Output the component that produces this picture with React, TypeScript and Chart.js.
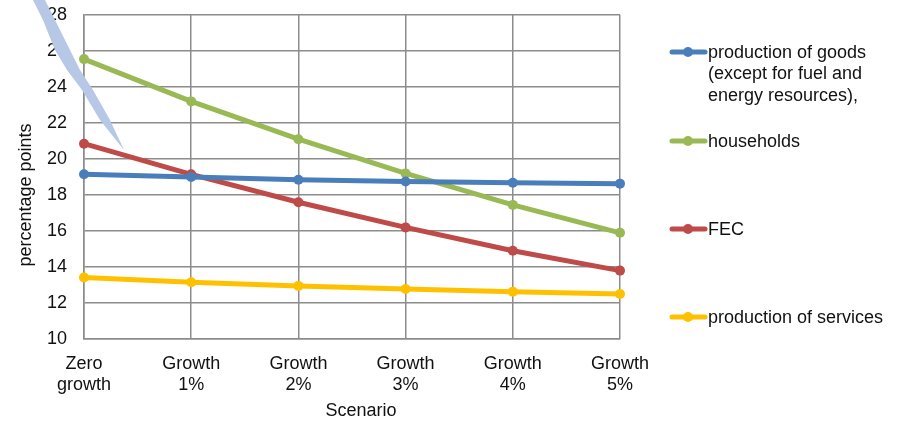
import React, { useEffect, useRef } from "react";
import { Chart, registerables } from "chart.js";

Chart.register(...registerables);

const categories: string[][] = [
  ["Zero", "growth"],
  ["Growth", "1%"],
  ["Growth", "2%"],
  ["Growth", "3%"],
  ["Growth", "4%"],
  ["Growth", "5%"],
];

const goods = [19.15, 19.0, 18.85, 18.75, 18.68, 18.63];
const households = [25.55, 23.2, 21.1, 19.2, 17.45, 15.9];
const fec = [20.85, 19.15, 17.6, 16.2, 14.9, 13.8];
const services = [13.42, 13.15, 12.95, 12.78, 12.63, 12.5];

const legendLabels: string[][] = [
  ["production of goods", "(except for fuel and", "energy resources),"],
  ["households"],
  ["FEC"],
  ["production of services"],
];

const yTicks = [10, 12, 14, 16, 18, 20, 22, 24, 26, 28];

const FONT = '"Liberation Sans", Arial, sans-serif';
const colors = ["#4A7EBB", "#98B954", "#BE4B48", "#FFC000"];
const legendY = [52, 141, 229, 317];

// decorative callout tail outline (not data)
const wedge: number[][] = [
  [33, 0], [45, 0], [55, 20], [70, 50], [80, 70], [93, 90], [110, 120], [124, 150],
  [100, 120], [82, 90], [67, 70], [55, 50], [43, 20],
];

export default function App() {
  const ref = useRef<HTMLCanvasElement | null>(null);

  useEffect(() => {
    if (!ref.current) return;
    const decor = {
      id: "decor",
      afterDraw(chart: any) {
        const ctx = chart.ctx as CanvasRenderingContext2D;
        const area = chart.chartArea;
        ctx.save();
        // legend
        chart.data.datasets.forEach((ds: any, i: number) => {
          const y = legendY[i];
          ctx.strokeStyle = ds.borderColor;
          ctx.lineWidth = 5;
          ctx.lineCap = "round";
          ctx.beginPath();
          ctx.moveTo(672, y);
          ctx.lineTo(705, y);
          ctx.stroke();
          ctx.fillStyle = ds.borderColor;
          ctx.beginPath();
          ctx.arc(688, y, 5, 0, Math.PI * 2);
          ctx.fill();
          ctx.fillStyle = "#111";
          ctx.font = `18px ${FONT}`;
          ctx.textAlign = "left";
          ctx.textBaseline = "middle";
          legendLabels[i].forEach((line, j) => {
            ctx.fillText(line, 708, y + 1 + j * 21.5);
          });
        });
        // axis titles
        ctx.fillStyle = "#111";
        ctx.font = `18px ${FONT}`;
        ctx.textAlign = "center";
        ctx.textBaseline = "middle";
        ctx.fillText("Scenario", (area.left + area.right) / 2 + 9, 411);
        ctx.save();
        ctx.translate(26, 195);
        ctx.rotate(-Math.PI / 2);
        ctx.fillText("percentage points", 0, 0);
        ctx.restore();
        // callout wedge artifact
        ctx.fillStyle = "#b6c8e6";
        ctx.beginPath();
        wedge.forEach(([x, y], k) => (k === 0 ? ctx.moveTo(x, y) : ctx.lineTo(x, y)));
        ctx.closePath();
        ctx.fill();
        ctx.restore();
      },
    };

    const mk = (label: string, data: number[], i: number) => ({
      label,
      data,
      borderColor: colors[i],
      backgroundColor: colors[i],
      borderWidth: 5,
      pointRadius: 5,
      pointBorderWidth: 0,
      pointBackgroundColor: colors[i],
      tension: 0,
    });

    const chart = new Chart(ref.current, {
      type: "line",
      data: {
        labels: categories,
        datasets: [
          mk(legendLabels[0].join(" "), goods, 0),
          mk(legendLabels[1].join(" "), households, 1),
          mk(legendLabels[2].join(" "), fec, 2),
          mk(legendLabels[3].join(" "), services, 3),
        ],
      },
      options: {
        responsive: false,
        animation: false,
        devicePixelRatio: 1,
        layout: { padding: { left: 0, right: 277, top: 15, bottom: 0 } },
        plugins: {
          legend: { display: false },
          tooltip: { enabled: false },
        },
        scales: {
          x: {
            offset: false,
            grid: { color: "#8c8c8c", lineWidth: 1.5, drawTicks: true, tickLength: 14, tickColor: "rgba(0,0,0,0)" },
            border: { color: "#8c8c8c", width: 1.5 },
            ticks: {
              color: "#111",
              font: { family: FONT, size: 18 },
              padding: 0,
              maxRotation: 0,
              autoSkip: false,
            },
            afterFit: (s: any) => {
              s.height = 83;
            },
          },
          y: {
            min: 10,
            max: 28,
            afterBuildTicks: (s: any) => {
              s.ticks = yTicks.map((v) => ({ value: v }));
            },
            grid: { color: "#8c8c8c", lineWidth: 1.5, drawTicks: true, tickLength: 17, tickColor: "rgba(0,0,0,0)" },
            border: { color: "#8c8c8c", width: 1.5 },
            ticks: {
              color: "#111",
              font: { family: FONT, size: 18 },
              padding: 0,
            },
            afterFit: (s: any) => {
              s.width = 84;
            },
          },
        },
      },
      plugins: [decor],
    } as any);
    return () => chart.destroy();
  }, []);

  return (
    <div style={{ position: "absolute", left: 0, top: 0, width: 897, height: 422, background: "#fff" }}>
      <canvas ref={ref} width={897} height={422} />
    </div>
  );
}
